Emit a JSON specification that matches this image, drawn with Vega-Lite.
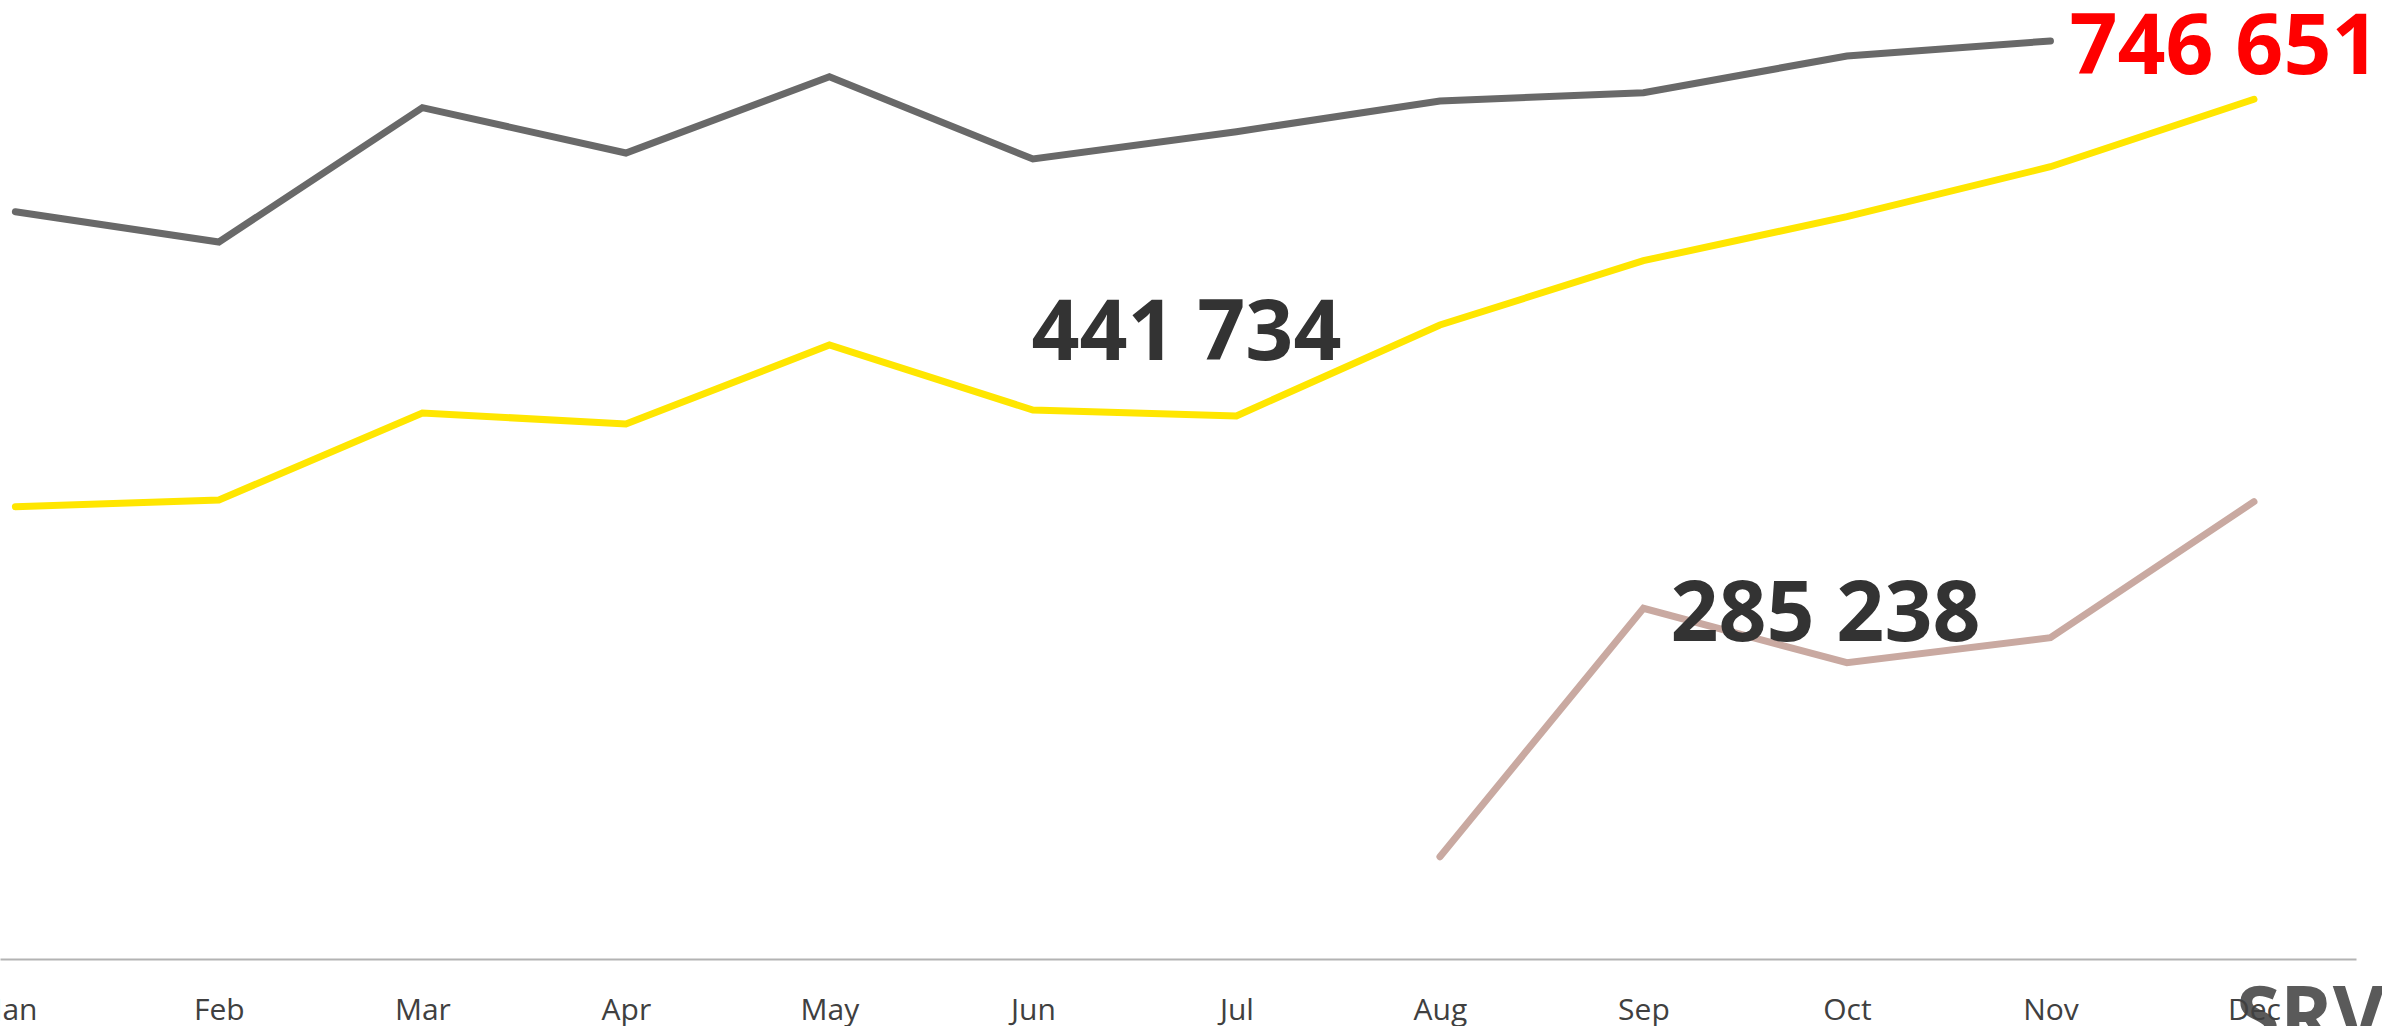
{
  "$schema": "https://vega.github.io/schema/vega-lite/v6.json",
  "width": 2356,
  "height": 959,
  "autosize": {"type": "none"},
  "padding": {"left": 0, "top": 0, "right": 26, "bottom": 67},
  "background": "white",
  "config": {
    "view": {"stroke": null},
    "locale": {"number": {"decimal": ",", "thousands": " ", "grouping": [3], "currency": ["", ""]}}
  },
  "datasets": {
    "series": [
      {"month": "Jan", "series": "Series 1", "value": 607816},
      {"month": "Feb", "series": "Series 1", "value": 583172},
      {"month": "Mar", "series": "Series 1", "value": 692405},
      {"month": "Apr", "series": "Series 1", "value": 655560},
      {"month": "May", "series": "Series 1", "value": 717618},
      {"month": "Jun", "series": "Series 1", "value": 650680},
      {"month": "Jul", "series": "Series 1", "value": 672884},
      {"month": "Aug", "series": "Series 1", "value": 697854},
      {"month": "Sep", "series": "Series 1", "value": 704605},
      {"month": "Oct", "series": "Series 1", "value": 734455},
      {"month": "Nov", "series": "Series 1", "value": 746651},
      {"month": "Jan", "series": "Series 2", "value": 367878},
      {"month": "Feb", "series": "Series 2", "value": 373328},
      {"month": "Mar", "series": "Series 2", "value": 444089},
      {"month": "Apr", "series": "Series 2", "value": 435142},
      {"month": "May", "series": "Series 2", "value": 499397},
      {"month": "Jun", "series": "Series 2", "value": 446529},
      {"month": "Jul", "series": "Series 2", "value": 441734},
      {"month": "Aug", "series": "Series 2", "value": 515664},
      {"month": "Sep", "series": "Series 2", "value": 567962},
      {"month": "Oct", "series": "Series 2", "value": 603748},
      {"month": "Nov", "series": "Series 2", "value": 644417},
      {"month": "Dec", "series": "Series 2", "value": 699237},
      {"month": "Aug", "series": "Series 3", "value": 83206},
      {"month": "Sep", "series": "Series 3", "value": 285238},
      {"month": "Oct", "series": "Series 3", "value": 240996},
      {"month": "Nov", "series": "Series 3", "value": 261329},
      {"month": "Dec", "series": "Series 3", "value": 371945}
    ],
    "logo": [{"month": "Dec", "brand": "SRV", "value": -69000}]
  },
  "encoding": {
    "x": {
      "field": "month",
      "type": "ordinal",
      "sort": ["Jan", "Feb", "Mar", "Apr", "May", "Jun", "Jul", "Aug", "Sep", "Oct", "Nov", "Dec"],
      "scale": {"type": "point", "padding": 0.2885, "align": 0.131, "round": false},
      "axis": {
        "title": null,
        "labelAngle": 0,
        "ticks": false,
        "tickSize": 0,
        "labelPadding": 60,
        "labelBaseline": "alphabetic",
        "labelFont": "Open Sans",
        "labelFontSize": 30,
        "labelColor": "#404040",
        "labelFlush": false,
        "labelOverlap": false,
        "domainColor": "#b3b3b3",
        "domainWidth": 2,
        "grid": false,
        "zindex": 1
      }
    },
    "y": {
      "field": "value",
      "type": "quantitative",
      "scale": {"domain": [0, 780000], "nice": false, "zero": true, "clamp": false},
      "axis": null
    }
  },
  "layer": [
    {
      "data": {"name": "series"},
      "mark": {"type": "line", "strokeWidth": 7, "strokeCap": "round", "strokeJoin": "miter"},
      "encoding": {
        "color": {
          "field": "series",
          "type": "nominal",
          "scale": {"domain": ["Series 1", "Series 2", "Series 3"], "range": ["#696969", "#FFE600", "#C9A9A1"]},
          "legend": null
        }
      }
    },
    {
      "data": {"name": "logo"},
      "mark": {"type": "text", "align": "left", "baseline": "alphabetic", "dx": -18, "font": "Open Sans", "fontSize": 80, "fontWeight": "bold", "color": "#5a5a5a"},
      "encoding": {
        "text": {"field": "brand", "type": "nominal"}
      }
    },
    {
      "data": {"name": "series"},
      "transform": [{"filter": "datum.series === 'Series 1' && datum.month === 'Nov'"}],
      "mark": {"type": "text", "align": "left", "baseline": "alphabetic", "dx": 19, "dy": 33, "font": "Open Sans", "fontSize": 84, "fontWeight": "bold", "color": "#FF0000"},
      "encoding": {"text": {"field": "value", "type": "quantitative", "format": ",.0f"}}
    },
    {
      "data": {"name": "series"},
      "transform": [{"filter": "datum.series === 'Series 2' && datum.month === 'Jul'"}],
      "mark": {"type": "text", "align": "center", "baseline": "alphabetic", "dx": -50, "dy": -56, "font": "Open Sans", "fontSize": 84, "fontWeight": "bold", "color": "#333333"},
      "encoding": {"text": {"field": "value", "type": "quantitative", "format": ",.0f"}}
    },
    {
      "data": {"name": "series"},
      "transform": [{"filter": "datum.series === 'Series 3' && datum.month === 'Sep'"}],
      "mark": {"type": "text", "align": "left", "baseline": "alphabetic", "dx": 27, "dy": 33, "font": "Open Sans", "fontSize": 84, "fontWeight": "bold", "color": "#333333"},
      "encoding": {"text": {"field": "value", "type": "quantitative", "format": ",.0f"}}
    }
  ]
}
